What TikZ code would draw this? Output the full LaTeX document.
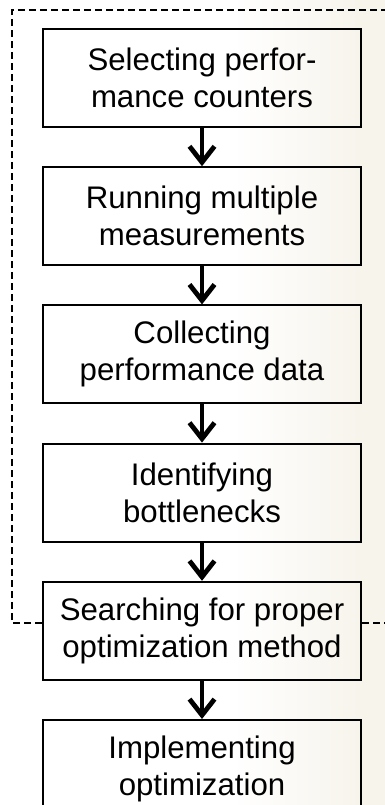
\documentclass[tikz,border=0pt]{standalone}
\usepackage{fontspec}
\setmainfont{Liberation Sans}
\usetikzlibrary{positioning,arrows.meta}
\definecolor{bgbeige}{RGB}{247,244,236}
\tikzset{
  stage/.style={draw=black, line width=1pt, minimum width=159pt, minimum height=49pt,
    inner sep=0pt, align=center, font=\fontsize{15.6}{18.5}\selectfont},
  flow/.style={line width=2pt, -{Straight Barb[length=8pt,width=12.5pt,line width=2.4pt]}}
}
\begin{document}
\begin{tikzpicture}[x=1pt,y=1pt,node distance=19.1pt]
\useasboundingbox (0,0) rectangle (192.5,-402.5);
\clip (0,0) rectangle (192.5,-402.5);
% background
\shade[left color=white, right color=bgbeige] (116,0) rectangle (180,-402.5);
\fill[bgbeige] (180,0) rectangle (192.5,-402.5);
\node[stage] (select) at (101,-39) {Selecting perfor-\\mance counters};
\node[stage, below=of select] (run) {Running multiple\\measurements};
\node[stage, below=of run] (collect) {Collecting\\performance data};
\node[stage, below=of collect] (ident) {Identifying\\bottlenecks};
\node[stage, below=of ident] (search) {Searching for proper\\optimization method};
\node[stage, below=of search] (impl) {Implementing\\optimization};
% dashed frame, stops at the search box, right side runs off the page
\coordinate (fl) at (search.west |- 0,-311.5);
\coordinate (fr) at (search.east |- 0,-311.5);
\draw[dash pattern=on 3.5pt off 2pt, line width=0.8pt] (fl)--(6,-311.5)--(6,-5)--(200,-5);
\draw[dash pattern=on 3.5pt off 2pt, line width=0.8pt] (fr)--(200,-311.5);
\draw[flow] (select)--(run);
\draw[flow] (run)--(collect);
\draw[flow] (collect)--(ident);
\draw[flow] (ident)--(search);
\draw[flow] (search)--(impl);
\end{tikzpicture}
\end{document}
